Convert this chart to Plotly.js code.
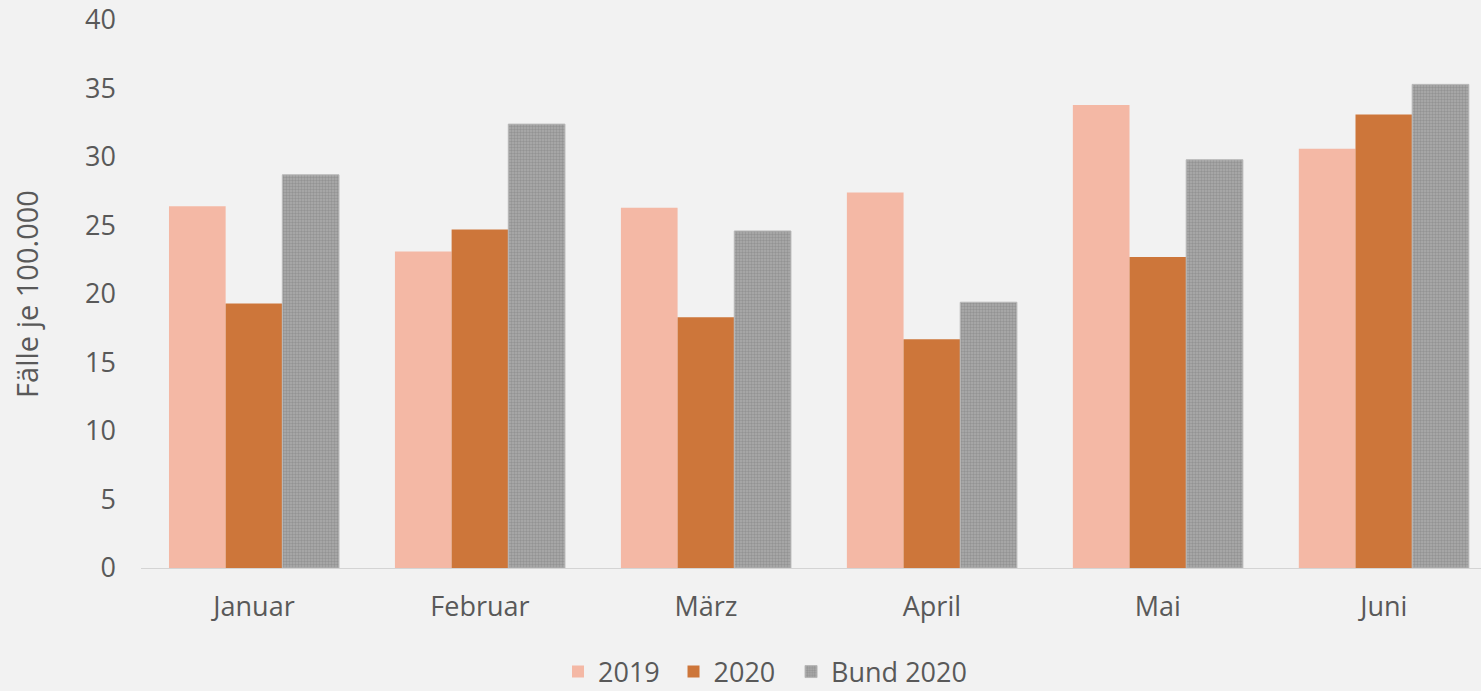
<!DOCTYPE html>
<html>
<head>
<meta charset="utf-8">
<script src="https://cdn.plot.ly/plotly-3.0.1.min.js"></script>
<style>html,body{margin:0;padding:0;background:#f2f2f2;}#chart{width:1481px;height:691px;}</style>
</head>
<body>
<div id="chart"></div>
<script>
const months = ["Januar", "Februar", "März", "April", "Mai", "Juni"];
const values2019 = [26.4, 23.1, 26.3, 27.4, 33.8, 30.6];
const values2020 = [19.3, 24.7, 18.3, 16.7, 22.7, 33.1];
const valuesBund2020 = [28.7, 32.4, 24.6, 19.4, 29.8, 35.3];
const seriesNames = ["2019", "2020", "Bund 2020"];
const yTicks = [0, 5, 10, 15, 20, 25, 30, 35, 40];

const fontFam = "Open Sans, sans-serif";
const txt = "#595959";

const traces = [
  {type: "bar", name: seriesNames[0], x: months, y: values2019, legend: "legend",
   marker: {color: "#F4B8A5"}},
  {type: "bar", name: seriesNames[1], x: months, y: values2020, legend: "legend2",
   marker: {color: "#CD763A"}},
  {type: "bar", name: seriesNames[2], x: months, y: valuesBund2020, legend: "legend3",
   marker: {color: "#a6a6a6", line: {color: "#b8b8b8", width: 1},
            pattern: {shape: ".", fgcolor: "#939393", bgcolor: "#adadad", size: 3, solidity: 0.5}}}
];

function legendAt(xpos) {
  return {orientation: "h", x: xpos, xanchor: "left", y: -0.1898, yanchor: "middle",
          font: {family: fontFam, size: 27, color: txt}, bgcolor: "rgba(0,0,0,0)"};
}

const layout = {
  width: 1481, height: 691,
  paper_bgcolor: "#f2f2f2", plot_bgcolor: "#f2f2f2",
  margin: {l: 141, r: 0, t: 20, b: 123, autoexpand: false},
  barmode: "group", bargap: 0.2476, bargroupgap: 0,
  font: {family: fontFam, color: txt, size: 27},
  showlegend: true,
  legend: legendAt(0.3112),
  legend2: legendAt(0.3974),
  legend3: legendAt(0.4851),
  xaxis: {range: [-0.5, 5.43], showgrid: false, zeroline: false,
          showline: true, linecolor: "#d4d4d4", linewidth: 1,
          ticks: "", ticklabelstandoff: 15,
          tickfont: {family: fontFam, size: 27, color: txt}, fixedrange: true},
  yaxis: {range: [0, 40], tickvals: yTicks, showgrid: false, zeroline: false,
          showline: false, ticks: "", ticklabelstandoff: 24,
          tickfont: {family: fontFam, size: 27, color: txt},
          title: {text: "Fälle je 100.000", font: {family: fontFam, size: 29, color: txt}, standoff: 37},
          fixedrange: true}
};

Plotly.newPlot("chart", traces, layout, {displayModeBar: false, staticPlot: true});
</script>
</body>
</html>
